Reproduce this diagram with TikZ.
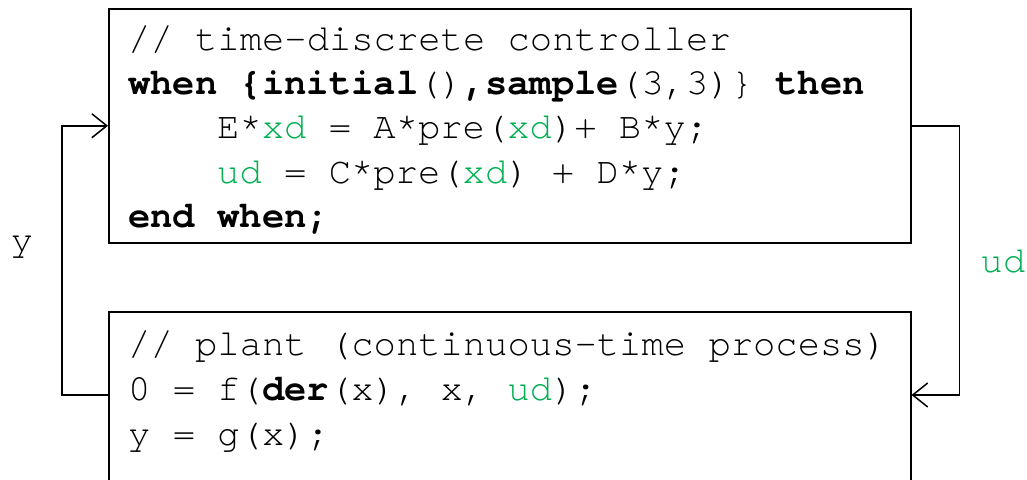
\documentclass[tikz,border=0pt]{standalone}
\usepackage{fontspec}
\setmonofont{texgyrecursor}[Extension=.otf, UprightFont=*-regular, BoldFont=*-bold, ItalicFont=*-italic, BoldItalicFont=*-bolditalic]
\usetikzlibrary{arrows.meta,calc}
\definecolor{codegreen}{RGB}{0,176,80}
\newcommand{\gr}[1]{\textcolor{codegreen}{#1}}
\begin{document}
\begin{tikzpicture}[x=1pt,y=-1pt,
  box/.style={draw, line width=1.5pt, minimum width=802pt, anchor=north west, inner sep=0pt},
  code/.style={anchor=base west, inner sep=0pt, font=\ttfamily\fontsize{37.2}{44}\selectfont},
  lab/.style={anchor=base, inner sep=0pt, font=\ttfamily\fontsize{37.2}{44}\selectfont},
  conn/.style={line width=1.5pt, -{Straight Barb[length=15pt,width=24pt,line width=1.5pt]}},
  ]
\useasboundingbox (0,0) rectangle (1027,479);
\clip (0,0) rectangle (1027,479);
% boxes
\node[box, minimum height=234pt] (ctrl) at (108,8) {};
\node[box, minimum height=190pt] (plant) at (108,311) {};
% controller code
\node[code] (c1) at (128,50) {// time-discrete controller};
\node[code] (c2) at (128,94) {\textbf{when \{initial}()\textbf{,sample}(3,3)\} \textbf{then}};
\node[code] (c3) at (217,138) {E*\gr{xd} = A*pre(\gr{xd})+ B*y;};
\node[code] (c4) at (217,183) {\gr{ud} = C*pre(\gr{xd}) + D*y;};
\node[code] (c5) at (128,227) {\textbf{end when;}};
% plant code
\node[code] (p1) at (128,355) {// plant (continuous-time process)};
\node[code] (p2) at (128,400) {0 = f(\textbf{der}(x), x, \gr{ud});};
\node[code] (p3) at (128,445) {y = g(x);};
% connection points
\coordinate (pw) at ($(plant.north west)+(0,84)$);
\coordinate (pe) at ($(plant.north east)+(0,84)$);
% connectors
\draw[conn] (pw) -- ++(-46,0) |- (ctrl.west);
\draw[conn] (ctrl.east) -- ++(48,0) |- (pe);
% labels
\node[lab] (ylab) at (22,251) {y};
\node[lab, text=codegreen] (udlab) at (1003,272) {ud};
\end{tikzpicture}
\end{document}
